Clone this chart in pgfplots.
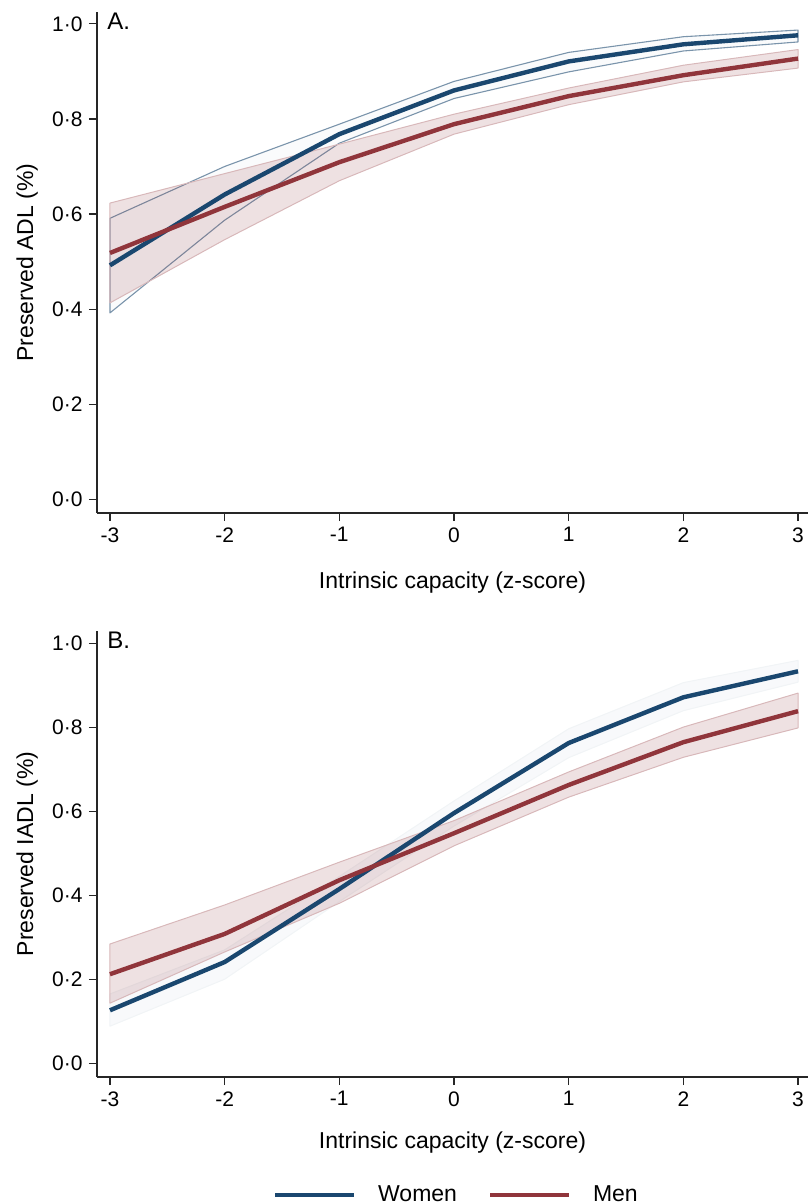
\documentclass[border=0pt]{standalone}
\usepackage{fontspec}
\setmainfont{Liberation Sans}
\usepackage{pgfplots}
\pgfplotsset{compat=1.18}
\definecolor{womenc}{HTML}{1A476F}
\definecolor{menc}{HTML}{90353B}
\pgfplotsset{
  panel/.style={
    scale only axis, width=355.5pt,
    xmin=-3.113, xmax=3.087,
    axis x line*=bottom, axis y line*=left,
    every outer x axis line/.append style={-},
    every outer y axis line/.append style={-},
    every inner x axis line/.append style={-},
    every inner y axis line/.append style={-},
    axis line style={-, black!85, line width=0.55pt},
    tick style={black!85, line width=0.55pt},
    major tick length=4pt,
    tick align=outside,
    xtick={-3,-2,-1,0,1,2,3}, xticklabels={-3,-2,-1,0,1,2,3},
    ytick={0,0.2,0.4,0.6,0.8,1}, yticklabels={0·0,0·2,0·4,0·6,0·8,1·0},
    xticklabel style={font=\fontsize{10.5}{12}\selectfont, anchor=north, inner sep=0pt, yshift=-3pt},
    yticklabel style={font=\fontsize{10.5}{12}\selectfont, anchor=east, inner sep=0pt, xshift=-3pt},
    xlabel={Intrinsic capacity (z-score)},
    label style={font=\fontsize{11.5}{14}\selectfont},
    ylabel style={at={(axis description cs:-0.09,0.5)}, anchor=base},
    line join=round,
  },
  wband/.style={fill=womenc!2, draw=womenc!58, line width=0.55pt},
  wbandB/.style={fill=womenc!3, draw=womenc!6, line width=0.5pt},
  mband/.style={fill=menc, fill opacity=0.15, draw=menc!35, draw opacity=1, line width=0.5pt},
  wline/.style={womenc, line width=2.2pt},
  mline/.style={menc, line width=2.2pt},
}
\begin{document}
\begin{tikzpicture}
% ---------------- Panel A ----------------
\begin{axis}[panel, at={(48.5pt,-256.5pt)}, anchor=south west,
  height=250.5pt, ymin=-0.029, ymax=1.025,
  ylabel={Preserved ADL (\%)},
  xlabel style={at={(axis description cs:0.5,0)}, anchor=base, yshift=-37.5pt},
]
\addplot[wband] coordinates {(-3,0.591) (-2,0.700) (-1,0.789) (0,0.879) (1,0.940) (2,0.973) (3,0.987)
  (3,0.962) (2,0.943) (1,0.899) (0,0.843) (-1,0.749) (-2,0.587) (-3,0.392)} -- cycle;
\addplot[mband] coordinates {(-3,0.623) (-2,0.685) (-1,0.747) (0,0.810) (1,0.865) (2,0.913) (3,0.946)
  (3,0.907) (2,0.878) (1,0.830) (0,0.768) (-1,0.670) (-2,0.546) (-3,0.413)} -- cycle;
\addplot[wline] coordinates {(-3,0.492) (-2,0.641) (-1,0.768) (0,0.860) (1,0.921) (2,0.957) (3,0.976)};
\addplot[mline] coordinates {(-3,0.518) (-2,0.615) (-1,0.709) (0,0.789) (1,0.848) (2,0.892) (3,0.927)};
\node[anchor=north west, inner sep=0pt, font=\fontsize{12}{14}\selectfont] at ([xshift=5pt,yshift=-0.3pt]axis description cs:0,1) {A.};
\end{axis}
% ---------------- Panel B ----------------
\begin{axis}[panel, at={(48.5pt,-538.5pt)}, anchor=south west,
  height=223pt, ymin=-0.033, ymax=1.030,
  ylabel={Preserved IADL (\%)},
  xlabel style={at={(axis description cs:0.5,0)}, anchor=base, yshift=-35.5pt},
  legend style={at={(axis description cs:0.507,-0.264)}, anchor=center, draw=none, fill=none,
    legend columns=2, font=\fontsize{11.5}{14}\selectfont,
    /tikz/every odd column/.append style={column sep=9pt},
    /tikz/every even column/.append style={column sep=13.5pt}},
  legend image code/.code={\draw[#1, line width=2pt] (0pt,0pt) -- (39.5pt,0pt);},
]
\addplot[wbandB, forget plot] coordinates {(-3,0.165) (-2,0.270) (-1,0.445) (0,0.625) (1,0.797) (2,0.907) (3,0.960)
  (3,0.908) (2,0.840) (1,0.728) (0,0.565) (-1,0.385) (-2,0.200) (-3,0.088)} -- cycle;
\addplot[mband, forget plot] coordinates {(-3,0.284) (-2,0.377) (-1,0.479) (0,0.578) (1,0.694) (2,0.801) (3,0.882)
  (3,0.799) (2,0.729) (1,0.634) (0,0.518) (-1,0.381) (-2,0.265) (-3,0.143)} -- cycle;
\addplot[wline] coordinates {(-3,0.126) (-2,0.241) (-1,0.415) (0,0.596) (1,0.763) (2,0.872) (3,0.934)};
\addlegendentry{Women}
\addplot[mline] coordinates {(-3,0.212) (-2,0.308) (-1,0.436) (0,0.548) (1,0.663) (2,0.765) (3,0.839)};
\addlegendentry{Men}
\node[anchor=north west, inner sep=0pt, font=\fontsize{12}{14}\selectfont] at ([xshift=5pt,yshift=-0.3pt]axis description cs:0,1) {B.};
\end{axis}
\pgfresetboundingbox
\path[use as bounding box] (0,0) rectangle (404pt,-602pt);
\end{tikzpicture}
\end{document}
